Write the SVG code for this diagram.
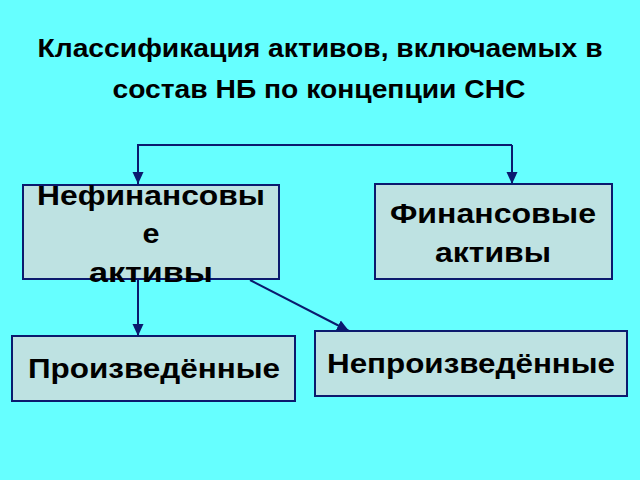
<svg xmlns="http://www.w3.org/2000/svg" width="640" height="480" viewBox="0 0 640 480">
<style>
.box{fill:#BEE2E2;stroke:#0B1A6E;stroke-width:2}
.t{font-family:"Liberation Sans",Arial,sans-serif;font-weight:bold;fill:#000;text-anchor:middle}
.title{font-size:26px}
.lbl{font-size:27px}
.c{fill:none;stroke:#0B1A6E;stroke-width:2}
</style>
<defs>
<marker id="ahv" viewBox="0 0 12 12" refX="12" refY="6" markerWidth="12" markerHeight="12" markerUnits="userSpaceOnUse" orient="auto">
<path d="M0,0.5 L12,6 L0,11.5 z" fill="#0B1A6E"/>
</marker>
</defs>
<rect width="640" height="480" fill="#66FFFF"/>
<g id="title">
<text class="t title" x="320" y="57" textLength="565" lengthAdjust="spacingAndGlyphs">Классификация активов, включаемых в</text>
<text class="t title" x="319" y="98" textLength="413" lengthAdjust="spacingAndGlyphs">состав НБ по концепции СНС</text>
</g>
<g id="connectors">
<path class="c" d="M512,145 L138,145 L138,184" marker-end="url(#ahv)"/>
<path class="c" d="M512,145 L512,184" marker-end="url(#ahv)"/>
<path class="c" d="M138,280 L138,336" marker-end="url(#ahv)"/>
<path class="c" d="M250,280 L349,331" marker-end="url(#ahv)"/>
</g>
<g id="nonfinancial">
<rect class="box" x="23" y="185" width="256" height="94"/>
<text class="t lbl" x="151" y="205" textLength="228" lengthAdjust="spacingAndGlyphs">Нефинансовы</text>
<text class="t lbl" x="151" y="243" textLength="17" lengthAdjust="spacingAndGlyphs">е</text>
<text class="t lbl" x="151" y="282" textLength="124" lengthAdjust="spacingAndGlyphs">активы</text>
</g>
<g id="financial">
<rect class="box" x="375" y="184" width="237" height="95"/>
<text class="t lbl" x="493" y="223" textLength="206" lengthAdjust="spacingAndGlyphs">Финансовые</text>
<text class="t lbl" x="493" y="262" textLength="116" lengthAdjust="spacingAndGlyphs">активы</text>
</g>
<g id="produced">
<rect class="box" x="12" y="336" width="283" height="65"/>
<text class="t lbl" x="154" y="378" textLength="252" lengthAdjust="spacingAndGlyphs">Произведённые</text>
</g>
<g id="nonproduced">
<rect class="box" x="315" y="331" width="312" height="65"/>
<text class="t lbl" x="471" y="373" textLength="288" lengthAdjust="spacingAndGlyphs">Непроизведённые</text>
</g>
</svg>
